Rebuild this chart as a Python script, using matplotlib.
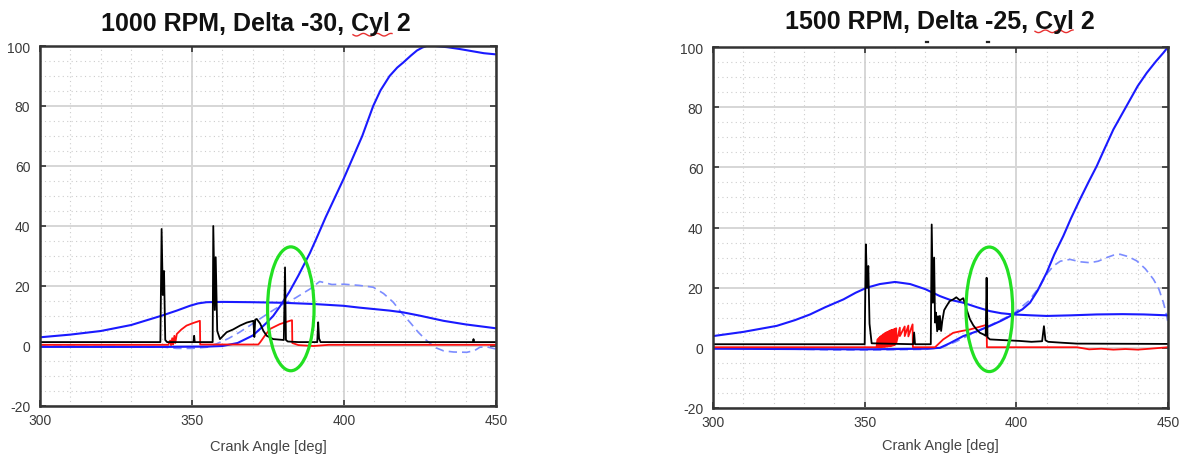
import numpy as np
import matplotlib
matplotlib.use("Agg")
import matplotlib.pyplot as plt
from matplotlib.patches import Ellipse
from matplotlib.lines import Line2D

plt.rcParams['font.family'] = ['Liberation Sans', 'DejaVu Sans']
plt.rcParams['axes.unicode_minus'] = False

W, H = 1186, 456

# ---------------- 1000 RPM, Delta -30 ----------------
titles = ["1000 RPM, Delta -30, Cyl 2", "1500 RPM, Delta -25, Cyl 2"]
x_label = "Crank Angle [deg]"
x_ticks = [300, 350, 400, 450]
y_ticks = [-20, 0, 20, 40, 60, 80, 100]

l_burn_x = [300, 340, 355, 360, 365, 370, 372.4, 374.5, 376.7, 379, 382, 385, 388.8, 391, 394, 397,
            400, 403, 406, 409.6, 412, 415, 417.5, 419.5, 422, 424, 425.8, 427.2, 430, 434, 438, 442, 446, 450]
l_burn_y = [-0.3, -0.3, -0.2, 0, 1, 3.5, 5.7, 7.7, 10, 13.3, 18, 23.5, 31, 36, 43, 49.5,
            56, 63, 70, 80, 85.2, 90, 92.8, 94.5, 96.8, 98.5, 99.5, 100, 100, 99.6, 99, 98.3, 97.6, 97.2]

l_vol_x = [300, 310, 320, 330, 340, 345, 349.3, 352, 354.8, 360, 370, 380, 390, 399.8, 405, 410,
           415, 419.5, 425, 432.7, 440, 450]
l_vol_y = [2.9, 3.8, 5.0, 7.0, 10.1, 11.8, 13.4, 14.2, 14.6, 14.7, 14.6, 14.4, 14.0, 13.4, 12.8, 12.3,
           11.8, 11.2, 10.1, 8.4, 7.2, 5.9]

l_rate_x = [300, 340, 345, 350, 355, 358, 362, 365.5, 369, 373, 376.5, 380, 384, 388.8, 392, 396,
            400, 405, 409.6, 413, 416.2, 419, 421.7, 424.5, 427.2, 430, 432.7, 436, 440.4, 443, 444.7,
            447, 450]
l_rate_y = [0, -0.3, -0.8, -0.8, -0.4, 0.7, 2.5, 4.5, 6.8, 9.5, 11.8, 14, 16, 19, 21.5, 20.5,
            20.6, 20.2, 19.6, 17.5, 14.6, 11, 7.9, 4.5, 1.8, -0.5, -1.6, -2, -2.1, -1.5, -0.4,
            -0.3, -1]

l_inj_x = [300, 342.2, 342.8, 343.1, 343.5, 343.8, 344.2, 344.5, 345, 346.5, 348.2, 350.5, 352.6,
           352.7, 371.8, 372.4, 374, 375.7, 378.9, 382.2, 382.9, 383, 385, 390, 395, 450]
l_inj_y = [0.4, 0.4, 1.8, 0.3, 2.6, 0.5, 3.4, 1.0, 4.0, 5.5, 6.8, 7.7, 8.4,
           0.5, 0.5, 1.2, 3.5, 5.7, 7.3, 8.4, 8.6, 1.0, 0.3, 0.0, 0.4, 0.4]

l_ion_x = [300, 339.6, 340.0, 340.4, 340.8, 341.2, 341.8, 350.5, 350.7, 350.9, 356.8, 357.0, 357.5,
           357.8, 358.3, 359.2, 361.4, 363.5, 365.8, 368, 370.2, 370.5, 370.8, 371.3, 372.4, 373.5,
           374.6, 376.7, 380.2, 380.6, 380.9, 381.5, 385, 391.2, 391.5, 391.8, 392.3, 442.4, 442.6,
           442.8, 450]
l_ion_y = [1.3, 1.3, 39, 17, 25, 2, 1.3, 1.3, 3.4, 1.3, 1.3, 40, 12,
           29.6, 5, 2.3, 4.6, 5.5, 6.8, 7.8, 8.4, 3, 8.8, 9, 7.5, 5,
           3.4, 2.3, 2.0, 26.2, 2.0, 1.5, 1.3, 1.3, 7.9, 2.5, 1.3, 1.3, 2.3,
           1.3, 1.3]

l_mark = (382.5, 12.4, 15.3, 41.3)

# ---------------- 1500 RPM, Delta -25 ----------------
r_burn_x = [300, 350, 370, 374.8, 378, 382.5, 387, 391.3, 395, 399, 402, 404.5, 407, 410, 412.5,
            415.5, 418, 421, 424, 426.5, 429, 432, 435, 437.5, 440, 443, 446, 448.5, 450]
r_burn_y = [-0.3, -0.5, -0.3, 0, 1.5, 3.9, 5.5, 7.3, 9, 11.1, 12.8, 15, 19, 25, 31,
            37.2, 43, 49.4, 55.5, 60.4, 66, 72.6, 78, 82.5, 87, 91.4, 95.2, 98.1, 100]

r_vol_x = [300, 310, 321, 327, 332, 337, 343, 347, 350.7, 355, 360, 365, 370, 374.8, 378, 382.5,
           387, 391.3, 395, 399, 405, 410, 418, 426.5, 435, 442, 450]
r_vol_y = [3.9, 5.3, 7.3, 9.2, 11.1, 13.5, 16.1, 18.3, 20, 21.2, 21.9, 21.2, 19.5, 17.2, 16, 15,
           13.5, 12.2, 11.5, 11.1, 10.8, 10.6, 10.8, 11.1, 11.2, 11.1, 10.8]

r_rate_x = [300, 320, 340, 355, 370, 375, 380, 385, 391, 399, 404, 407.8, 410, 412.2, 414.5, 417.7,
            421, 424.3, 427, 429.8, 432, 434.2, 437, 439.7, 442.5, 445.2, 447, 448.5, 449.5, 450.2]
r_rate_y = [0, -0.3, -0.7, -0.7, -0.5, 0, 2, 4.5, 7.3, 11.3, 15.5, 20.5, 24.5, 27.2, 28.8, 29.4,
            28.6, 28.3, 28.8, 30, 30.8, 31.1, 30.3, 28.9, 26.3, 22.8, 19.5, 15, 11, 7.2]

r_inj_x = [300, 353.9, 354.3, 354.3, 354.7, 354.7, 355.1, 355.1, 355.5, 355.5, 355.9, 355.9, 356.3,
           356.3, 356.7, 356.7, 357.1, 357.1, 357.5, 357.5, 357.9, 357.9, 358.3, 358.3, 358.7, 358.7,
           359.1, 359.1, 359.5, 359.5, 359.9, 359.9, 360.4, 360.4, 361.6, 361.6, 363.2, 363.2, 364.4,
           364.4, 365.8, 365.9, 373.2, 375.9, 379.2, 382, 384.7, 387.2, 389.7, 390.2, 390.3, 400,
           420, 424, 428, 432, 436, 440, 444, 450]
r_inj_y = [0.2, 0.2, 2.9, 0.2, 3.3, 0.2, 3.7, 0.2, 4.0, 0.2, 4.3, 0.3, 4.6,
           0.3, 4.9, 0.3, 5.1, 0.4, 5.3, 0.4, 5.5, 0.5, 5.7, 0.5, 5.9, 0.6,
           6.0, 0.7, 6.1, 0.8, 6.3, 1.0, 6.5, 1.5, 6.7, 3.9, 7.1, 3.9, 7.4,
           3.8, 7.8, 0.2, 0.2, 2.8, 5.0, 5.6, 6.1, 6.8, 7.5, 7.8, 0.2, 0.2,
           0.2, -0.5, -0.3, -0.6, -0.4, -0.6, -0.3, 0.2]

r_ion_x = [300, 350.0, 350.4, 350.8, 351.2, 351.6, 352.3, 366.0, 366.3, 366.6, 371.8, 372.1, 372.5,
           372.9, 373.2, 373.5, 373.9, 374.2, 374.5, 374.8, 375.2, 375.6, 376.2, 377, 378, 379.2,
           380.2, 381.4, 382.5, 383.6, 384.7, 385.8, 386.9, 388, 389.1, 389.9, 390.2, 390.5, 391.3,
           395, 401, 405, 408.5, 409.1, 409.6, 410.5, 415, 420, 450]
r_ion_y = [1.2, 1.2, 34.4, 20, 27.2, 8, 1.5, 1.2, 5.1, 1.2, 1.2, 41, 15,
           30, 8.4, 11.7, 5.5, 10.5, 6.1, 10.6, 5.6, 9, 12.5, 13.9, 15.5, 16.1,
           16.8, 15.8, 16.5, 12.8, 9.5, 7.5, 6.1, 5, 4.5, 4, 23.3, 3.5, 2.8,
           2.6, 2.3, 2.0, 2.2, 7.2, 2.5, 2.0, 1.7, 1.4, 1.3]

r_mark = (391.1, 12.8, 15.4, 41.4)

panels = [
    dict(title=titles[0], burn=(l_burn_x, l_burn_y), vol=(l_vol_x, l_vol_y), rate=(l_rate_x, l_rate_y),
         inj=(l_inj_x, l_inj_y), ion=(l_ion_x, l_ion_y), mark=l_mark,
         box=(40, 407, 456, 360), title_xy=(256, 31.5), squig=(353, 392, 35.7), lpad=8.5),
    dict(title=titles[1], burn=(r_burn_x, r_burn_y), vol=(r_vol_x, r_vol_y), rate=(r_rate_x, r_rate_y),
         inj=(r_inj_x, r_inj_y), ion=(r_ion_x, r_ion_y), mark=r_mark,
         box=(713, 409, 455, 361), title_xy=(939.5, 28.5), squig=(1035, 1073, 32.3), lpad=6.5),
]

fig = plt.figure(figsize=(W / 100, H / 100), dpi=100)
fig.patch.set_facecolor('white')

BLUE = '#1a1aff'
DASH = '#7c8cff'
RED = '#ff1010'
GREEN = '#22e022'

for p in panels:
    x0, yb, w, h = p['box']
    ax = fig.add_axes([x0 / W, (H - yb) / H, w / W, h / H])
    ax.set_xlim(300, 450)
    ax.set_ylim(-20, 100)
    ax.set_xticks(x_ticks)
    ax.set_yticks(y_ticks)
    ax.set_xticks(np.arange(300, 451, 10), minor=True)
    ax.set_yticks(np.arange(-20, 101, 5), minor=True)
    ax.grid(which='major', color='#d6d6d6', lw=1.4, ls='-')
    ax.grid(which='minor', color='#cdcdcd', lw=0.8, ls=(0, (1, 3)))
    ax.set_axisbelow(True)
    ax.tick_params(which='major', direction='in', length=4, width=1.2, top=True, right=True,
                   labelsize=10, labelcolor='#3a3a3a', pad=5, color='#333333')
    ax.tick_params(axis='y', which='major', pad=7)
    ax.tick_params(which='minor', length=0)
    for s in ax.spines.values():
        s.set_linewidth(1.8)
        s.set_color('#333333')
    ax.set_xlabel(x_label, fontsize=10.5, color='#444444', labelpad=p['lpad'])

    ax.plot(*p['rate'], color=DASH, lw=1.2, ls=(0, (5, 3)))
    ax.plot(*p['vol'], color=BLUE, lw=1.5)
    ax.plot(*p['burn'], color=BLUE, lw=1.5)
    ax.plot(*p['inj'], color=RED, lw=1.3)
    ax.plot(*p['ion'], color='black', lw=1.3)

    cx, cy, ew, eh = p['mark']
    ax.add_patch(Ellipse((cx, cy), ew, eh, fill=False, ec=GREEN, lw=2.3, clip_on=False, zorder=5))

    # title
    tx, ty = p['title_xy']
    fig.text(tx / W, (H - ty) / H, p['title'], ha='center', va='baseline',
             fontsize=18, fontweight='bold', color='#111111')
    # spell-check underline
    sx0, sx1, sy = p['squig']
    xs = np.linspace(sx0, sx1, 60)
    ys = sy + 1.3 * np.sin((xs - sx0) / 2.2)
    fig.add_artist(Line2D(xs / W, (H - ys) / H, color='#e83030', lw=1.0, transform=fig.transFigure))

# small marks above the second panel
for mx in (927, 988):
    fig.add_artist(Line2D([(mx - 1) / W, (mx + 1) / W], [(H - 43) / H, (H - 43) / H],
                          color='#222222', lw=1.6, transform=fig.transFigure))

fig.savefig('out.png', dpi=100, facecolor='white')
